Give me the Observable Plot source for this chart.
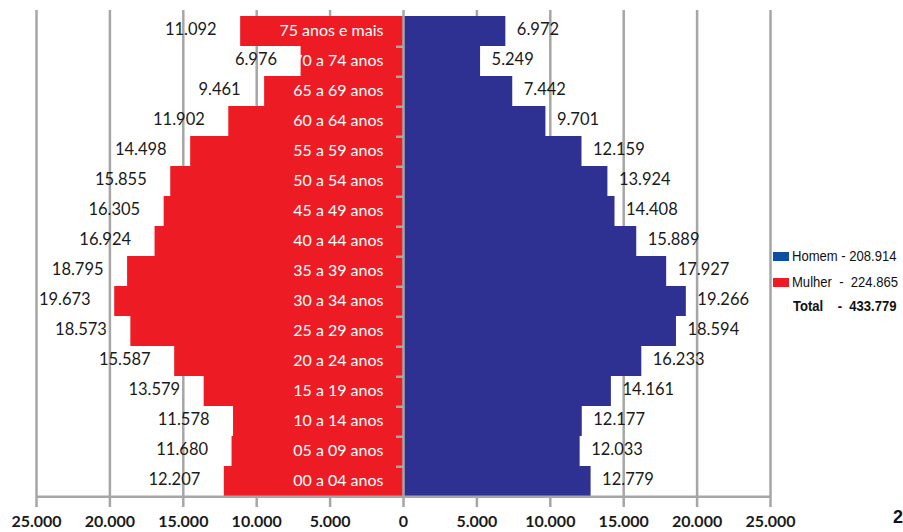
<!DOCTYPE html>
<html>
<head>
<meta charset="utf-8">
<script src="https://cdn.jsdelivr.net/npm/d3@7"></script>
<script src="https://cdn.jsdelivr.net/npm/@observablehq/plot@0.6"></script>
<style>
  html, body { margin: 0; padding: 0; background: #fff; }
  #wrap { position: relative; width: 903px; height: 532px; overflow: hidden; }
  #wrap svg { position: absolute; left: 0; top: 0; }
  .xt text { font-family: Lato, sans-serif; font-weight: bold; font-size: 16px; fill: #1a1a1a; }
  #legend { position: absolute; left: 773px; top: 243px; font-family: "Liberation Sans", Arial, sans-serif; font-size: 14.5px; color: #111; line-height: 1; }
  #legend .row { display: flex; align-items: center; height: 26px; white-space: pre; }
  #legend .sw { width: 16px; height: 9px; margin-right: 3px; flex: none; }
  #legend .txt { display: inline-block; transform: scaleX(0.9); transform-origin: left center; white-space: pre; }
  #legend .tot { font-weight: bold; padding-left: 20px; height: 22px; display: flex; align-items: center; }
  #corner { position: absolute; left: 893px; top: 507px; font-family: "Liberation Sans", Arial, sans-serif; font-weight: bold; font-size: 18px; color: #111; }
</style>
</head>
<body>
<div id="wrap"></div>
<script>
// categories, bottom to top
const categories = ["00 a 04 anos", "05 a 09 anos", "10 a 14 anos", "15 a 19 anos", "20 a 24 anos", "25 a 29 anos", "30 a 34 anos", "35 a 39 anos", "40 a 44 anos", "45 a 49 anos", "50 a 54 anos", "55 a 59 anos", "60 a 64 anos", "65 a 69 anos", "70 a 74 anos", "75 anos e mais"];
const mulher = [12207, 11680, 11578, 13579, 15587, 18573, 19673, 18795, 16924, 16305, 15855, 14498, 11902, 9461, 6976, 11092];
const homem = [12779, 12033, 12177, 14161, 16233, 18594, 19266, 17927, 15889, 14408, 13924, 12159, 9701, 7442, 5249, 6972];
const xTicks = [-25000, -20000, -15000, -10000, -5000, 0, 5000, 10000, 15000, 20000, 25000];
const legendItems = [
  {label: "Homem - 208.914", color: "#0b4ea2"},
  {label: "Mulher  -  224.865", color: "#ed1c24"}
];
const totalLabel = "Total    -  433.779";
const cornerText = "2";

const loc = d3.formatLocale({decimal: ",", thousands: ".", grouping: [3], currency: ["", ""]});
const fmt = loc.format(",d");

const rows = categories.map((c, i) => ({cat: c, m: mulher[i], h: homem[i]}));
const domainY = categories.slice().reverse();

const RED = "#ed1c24", BLUE = "#2e3192", GRID = "#a6a6a6";
const W = 903, H = 532, mT = 12, mB = 32, mL = 36, mR = 133;
const band = (H - mT - mB) / categories.length;
const tickLen = 7 * 50000 / (W - mL - mR);

const chart = Plot.plot({
  width: W, height: H,
  marginTop: mT, marginBottom: mB, marginLeft: mL, marginRight: mR,
  x: {domain: [-25000, 25000], axis: null},
  y: {domain: domainY, padding: 0, axis: null},
  style: {fontFamily: "Lato, sans-serif", fontSize: "16px", background: "#fff"},
  marks: [
    Plot.ruleX(xTicks.filter(d => d !== 0), {stroke: GRID, strokeWidth: 2.5, insetTop: -2}),
    Plot.barX(rows, {y: "cat", x1: 0, x2: d => -d.m, fill: RED, inset: 0}),
    Plot.barX(rows, {y: "cat", x1: 0, x2: d => d.h, fill: BLUE, inset: 0}),
    Plot.ruleX([0], {stroke: GRID, strokeWidth: 2.5, insetTop: -2}),
    Plot.ruleY(categories.slice(1), {y: d => d, x1: -tickLen, x2: 0, dy: band / 2, stroke: GRID, strokeWidth: 2.5}),
    Plot.ruleY([categories[0]], {y: d => d, x1: -25000, x2: 25000, dy: band / 2, stroke: GRID, strokeWidth: 2.5}),
    Plot.text(rows, {y: "cat", x: 0, text: "cat", textAnchor: "end", dx: -20, dy: -1, fill: "#fff"}),
    Plot.text(rows, {y: "cat", x: d => -d.m, text: d => fmt(d.m), textAnchor: "end", dx: -24, dy: -2, fill: "#1a1a1a", fontSize: 16.5}),
    Plot.text(rows, {y: "cat", x: d => d.h, text: d => fmt(d.h), textAnchor: "start", dx: 11, dy: -2, fill: "#1a1a1a", fontSize: 16.5}),
    Plot.axisX(xTicks, {anchor: "bottom", tickSize: 7, tickPadding: 8, stroke: GRID, strokeWidth: 2.5, tickFormat: d => fmt(Math.abs(d)), className: "xt"})
  ]
});
document.getElementById("wrap").appendChild(chart);

const leg = document.createElement("div");
leg.id = "legend";
legendItems.forEach(it => {
  const r = document.createElement("div");
  r.className = "row";
  const s = document.createElement("span");
  s.className = "sw"; s.style.background = it.color;
  const t = document.createElement("span");
  t.className = "txt";
  t.textContent = it.label;
  r.appendChild(s); r.appendChild(t);
  leg.appendChild(r);
});
const tot = document.createElement("div");
tot.className = "tot";
const tt = document.createElement("span");
tt.className = "txt"; tt.textContent = totalLabel;
tot.appendChild(tt);
leg.appendChild(tot);
document.getElementById("wrap").appendChild(leg);

const cn = document.createElement("div");
cn.id = "corner"; cn.textContent = cornerText;
document.getElementById("wrap").appendChild(cn);
</script>
</body>
</html>
